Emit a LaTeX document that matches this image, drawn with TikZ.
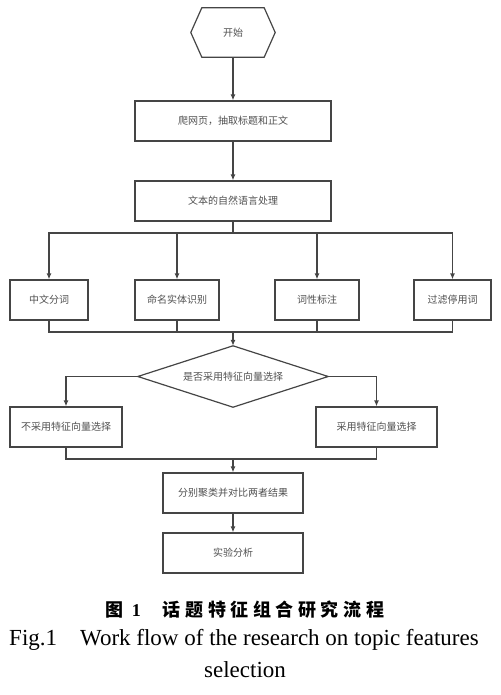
\documentclass[tikz,border=0pt]{standalone}
\usepackage{fontspec}
\setmainfont{Liberation Serif}
\newfontfamily\cjk{Noto Sans CJK SC}
\usetikzlibrary{shapes.geometric,arrows.meta,calc}
\definecolor{ln}{HTML}{454545}
\definecolor{tx}{HTML}{505050}
\newcommand\ck{\kern4.6pt}
\begin{document}
\begin{tikzpicture}[x=1pt,y=-1pt,
  lbl/.style={inner sep=0pt,font=\cjk\fontsize{10}{12}\selectfont,text=tx},
  box/.style={lbl,draw=ln,line width=1.2pt,minimum height=40pt},
  conn/.style={draw=ln,line width=1.2pt},
  arr/.style={conn,-{Latex[length=6pt,width=5pt]}}]
\useasboundingbox (0,0) rectangle (500,695);
% start hexagon
\node[lbl,minimum width=84pt,minimum height=49pt] (start) at (233,32.5) {开始};
\draw[conn] (start.west) -- ($(start.north west)+(11,0)$) -- ($(start.north east)+(-11,0)$)
  -- (start.east) -- ($(start.south east)+(-11,0)$) -- ($(start.south west)+(11,0)$) -- cycle;
\node[box,minimum width=196pt] (crawl) at (233,121) {爬网页，抽取标题和正文};
\node[box,minimum width=196pt] (nlp) at (233,201) {文本的自然语言处理};
\node[box,minimum width=78pt] (a) at (49,300) {中文分词};
\node[box,minimum width=84pt] (b) at (177,300) {命名实体识别};
\node[box,minimum width=84pt] (c) at (317,300) {词性标注};
\node[box,minimum width=77pt] (d) at (452.5,300) {过滤停用词};
% decision diamond
\node[lbl,minimum width=190pt,minimum height=61pt] (dec) at (233,376.5) {是否采用特征向量选择};
\draw[conn] (dec.north) -- (dec.east) -- (dec.south) -- (dec.west) -- cycle;
\node[box,minimum width=112pt] (no) at (66,427) {不采用特征向量选择};
\node[box,minimum width=121pt] (yes) at (376.5,427) {采用特征向量选择};
\node[box,minimum width=140pt] (clu) at (233,493) {分别聚类并对比两者结果};
\node[box,minimum width=140pt] (exp) at (233,553) {实验分析};
\coordinate (s1) at (233,233);
\coordinate (j1) at (233,332);
\coordinate (j2) at (233,459);
% connectors
\draw[arr] (start.south) -- (crawl.north);
\draw[arr] (crawl.south) -- (nlp.north);
\draw[conn] (nlp.south) -- (s1);
\draw[arr] (s1) -| (a.north);
\draw[arr] (s1) -| (b.north);
\draw[arr] (s1) -| (c.north);
\draw[arr] (s1) -| (d.north);
\draw[conn] (a.south) |- (j1);
\draw[conn] (b.south) |- (j1);
\draw[conn] (c.south) |- (j1);
\draw[conn] (d.south) |- (j1);
\draw[arr] (j1) -- (dec.north);
\draw[arr] (dec.west) -| (no.north);
\draw[arr] (dec.east) -| (yes.north);
\draw[conn] (no.south) |- (j2);
\draw[conn] (yes.south) |- (j2);
\draw[arr] (j2) -- (clu.north);
\draw[arr] (clu.south) -- (exp.north);
% caption
\node[inner sep=0pt] (cap1) at (245,610)
  {\fontsize{18}{20}\selectfont{\cjk\bfseries 图}\kern8pt\textbf{1}\kern22pt{\cjk\bfseries 话\ck 题\ck 特\ck 征\ck 组\ck 合\ck 研\ck 究\ck 流\ck 程}};
\node[inner sep=0pt,anchor=base] (cap2) at (244,645)
  {\fontsize{23}{27}\selectfont Fig.1\hspace{1em}Work flow of the research on topic features};
\node[inner sep=0pt,anchor=base] (cap3) at (245,677)
  {\fontsize{23}{27}\selectfont selection};
\end{tikzpicture}
\end{document}
